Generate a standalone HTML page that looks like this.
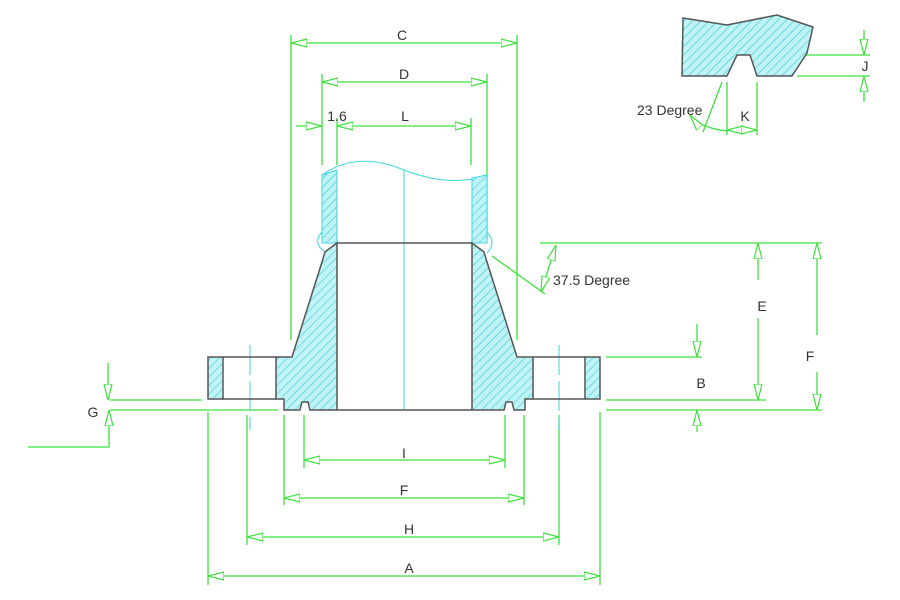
<!DOCTYPE html>
<html><head><meta charset="utf-8"><style>
html,body{margin:0;padding:0;background:#fff;}
svg{display:block;}
text{font-family:"Liberation Sans",sans-serif;font-size:14px;fill:#333;}
</style></head><body>
<svg width="900" height="600" viewBox="0 0 900 600" xmlns="http://www.w3.org/2000/svg">
<defs>
<pattern id="h" patternUnits="userSpaceOnUse" width="6" height="6" patternTransform="rotate(45)">
<rect width="6" height="6" fill="#bff3f5"/><line x1="0" y1="0" x2="0" y2="6" stroke="#3cc9d6" stroke-width="1.2"/>
</pattern>
<marker id="a" viewBox="0 0 16 10" refX="16" refY="5" markerWidth="16" markerHeight="10" markerUnits="userSpaceOnUse" orient="auto-start-reverse">
<path d="M0,1 L16,5 L0,9 Z" fill="#fff" stroke="#3de03d" stroke-width="1.2"/>
</marker>
</defs>
<g stroke="#3de03d" stroke-width="1.3" fill="none">
<!-- extension lines -->
<line x1="291" y1="35" x2="291" y2="340"/>
<line x1="517" y1="35" x2="517" y2="340"/>
<line x1="322" y1="74" x2="322" y2="165"/>
<line x1="487" y1="74" x2="487" y2="240"/>
<line x1="337" y1="118" x2="337" y2="165"/>
<line x1="471" y1="118" x2="471" y2="165"/>
<line x1="208" y1="412" x2="208" y2="585"/>
<line x1="600" y1="412" x2="600" y2="585"/>
<line x1="247" y1="415" x2="247" y2="545"/>
<line x1="559" y1="415" x2="559" y2="545"/>
<line x1="284" y1="415" x2="284" y2="505"/>
<line x1="524" y1="415" x2="524" y2="505"/>
<line x1="304" y1="415" x2="304" y2="468"/>
<line x1="505" y1="415" x2="505" y2="468"/>
<!-- dims -->
<line x1="291" y1="43" x2="517" y2="43" marker-start="url(#a)" marker-end="url(#a)"/>
<line x1="322" y1="82" x2="487" y2="82" marker-start="url(#a)" marker-end="url(#a)"/>
<line x1="296" y1="126" x2="322" y2="126" marker-end="url(#a)"/>
<line x1="337" y1="126" x2="471" y2="126" marker-start="url(#a)" marker-end="url(#a)"/>
<line x1="304" y1="460" x2="505" y2="460" marker-start="url(#a)" marker-end="url(#a)"/>
<line x1="284" y1="498" x2="524" y2="498" marker-start="url(#a)" marker-end="url(#a)"/>
<line x1="247" y1="537" x2="559" y2="537" marker-start="url(#a)" marker-end="url(#a)"/>
<line x1="208" y1="576" x2="600" y2="576" marker-start="url(#a)" marker-end="url(#a)"/>
<!-- right dims -->
<line x1="540" y1="243" x2="822" y2="243"/>
<line x1="606" y1="357" x2="702" y2="357"/>
<line x1="606" y1="400" x2="766" y2="400"/>
<line x1="606" y1="410" x2="822" y2="410"/>
<line x1="758" y1="243" x2="758" y2="280" marker-start="url(#a)"/>
<line x1="758" y1="318" x2="758" y2="400" marker-end="url(#a)"/>
<line x1="817" y1="243" x2="817" y2="335" marker-start="url(#a)"/>
<line x1="817" y1="372" x2="817" y2="410" marker-end="url(#a)"/>
<line x1="697" y1="324" x2="697" y2="357" marker-end="url(#a)"/>
<line x1="697" y1="432" x2="697" y2="410" marker-end="url(#a)"/>
<!-- G -->
<line x1="110" y1="400" x2="202" y2="400"/>
<line x1="110" y1="410" x2="278" y2="410"/>
<line x1="108" y1="363" x2="108" y2="400" marker-end="url(#a)"/>
<polyline points="28,447 109,447 109,410" marker-end="url(#a)"/>
<!-- 37.5 -->
<line x1="492" y1="256" x2="545" y2="294"/>
<line x1="556" y1="245" x2="541" y2="292" marker-start="url(#a)" marker-end="url(#a)"/>
<!-- detail J K -->
<line x1="755" y1="55" x2="870" y2="55"/>
<line x1="797" y1="76" x2="870" y2="76"/>
<line x1="864" y1="30" x2="864" y2="55" marker-end="url(#a)"/>
<line x1="864" y1="102" x2="864" y2="76" marker-end="url(#a)"/>
<line x1="727" y1="82" x2="727" y2="135"/>
<line x1="757" y1="82" x2="757" y2="135"/>
<line x1="722" y1="82" x2="703" y2="132"/>
<line x1="727" y1="130" x2="757" y2="130" marker-start="url(#a)" marker-end="url(#a)"/>
<path d="M690,115 Q700,128 727,131" marker-start="url(#a)"/>
</g>
<!-- cyan centerlines -->
<g stroke="#3ed6e0" stroke-width="1" fill="none">
<line x1="404" y1="170" x2="404" y2="410"/>
<line x1="250" y1="345" x2="250" y2="430" stroke-dasharray="30,6"/>
<line x1="559" y1="345" x2="559" y2="430" stroke-dasharray="30,6"/>
<path d="M322,175 C350,155 380,160 404,170 C430,180 460,185 487,175"/>
<line x1="337" y1="243" x2="471" y2="243"/>
</g>
<!-- pipe -->
<g stroke="#3ed6e0" stroke-width="1">
<path d="M322,175 L337,170 L337,243 L322,243 Z" fill="url(#h)"/>
<path d="M472,178 L487,175 L487,243 L472,243 Z" fill="url(#h)"/>
<path d="M322,232 Q312,243 325,252 M487,232 Q497,243 487,253" fill="none"/>
</g>
<!-- flange body -->
<g stroke="#555" stroke-width="1.5" fill="url(#h)">
<path d="M337,243 L325,252 L322,262 L292,357 L276,357 L276,399 L284,399 L284,410 L300,410 L302,402 L308,402 L310,410 L337,410 Z"/>
<path d="M472,243 L484,252 L487,262 L517,357 L533,357 L533,399 L525,399 L525,410 L514,410 L512,402 L506,402 L504,410 L472,410 Z"/>
<rect x="208" y="357" width="15" height="42"/>
<rect x="585" y="357" width="15" height="42"/>
<path d="M683,18 L727,25 L777,15 L813,27 L807,53 L792,76 L757,76 L750,55 L737,55 L727,76 L682,76 Z"/>
</g>
<g stroke="#555" stroke-width="1.5" fill="none">
<path d="M223,357 L276,357 M223,399 L276,399 M533,357 L585,357 M533,399 L585,399"/>
<line x1="337" y1="243" x2="472" y2="243"/>
<line x1="337" y1="410" x2="472" y2="410"/>
</g>
<text x="402" y="40" text-anchor="middle">C</text>
<text x="404" y="79" text-anchor="middle">D</text>
<text x="337" y="121" text-anchor="middle">1.6</text>
<text x="405" y="121" text-anchor="middle">L</text>
<text x="404" y="458" text-anchor="middle">I</text>
<text x="404" y="495" text-anchor="middle">F</text>
<text x="409" y="534" text-anchor="middle">H</text>
<text x="409" y="573" text-anchor="middle">A</text>
<text x="553" y="285">37.5 Degree</text>
<text x="762" y="311" text-anchor="middle">E</text>
<text x="810" y="361" text-anchor="middle">F</text>
<text x="701" y="388" text-anchor="middle">B</text>
<text x="93" y="417" text-anchor="middle">G</text>
<text x="637" y="115">23 Degree</text>
<text x="745" y="121" text-anchor="middle">K</text>
<text x="865" y="71" text-anchor="middle">J</text>
</svg>
</body></html>
